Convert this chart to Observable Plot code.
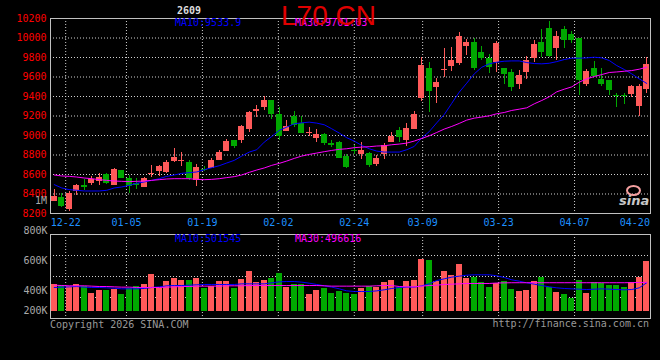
<!DOCTYPE html>
<html><head><meta charset="utf-8">
<script src="https://cdn.jsdelivr.net/npm/d3@7"></script>
<script src="https://cdn.jsdelivr.net/npm/@observablehq/plot@0.6"></script>
<style>
body{margin:0;background:#000;}
#wrap{position:relative;width:660px;height:360px;background:#000;overflow:hidden;font-family:"DejaVu Sans Mono",monospace;}
#wrap svg{position:absolute;left:0;}
.t{position:absolute;white-space:pre;font-size:10px;line-height:10px;}
</style></head><body><div id="wrap"></div>
<script>
const dates = ["12-18","12-19","12-22","12-23","12-24","12-25","12-26","12-29","12-30","12-31",
"01-05","01-06","01-07","01-08","01-09","01-12","01-13","01-14","01-15","01-16",
"01-19","01-20","01-21","01-22","01-23","01-26","01-27","01-28","01-29","01-30",
"02-02","02-03","02-04","02-05","02-06","02-09","02-10","02-11","02-12","02-13",
"02-24","02-25","02-26","02-27","03-02","03-03","03-04","03-05","03-06","03-09",
"03-10","03-11","03-12","03-13","03-16","03-17","03-18","03-19","03-20","03-23",
"03-24","03-25","03-26","03-27","03-30","03-31","04-01","04-02","04-03","04-07",
"04-08","04-09","04-10","04-13","04-14","04-15","04-16","04-17","04-20","04-21"];
const open = [8326,8363,8244,8428,8485,8510,8533,8605,8489,8636, 8564,8505,8469,8605,8632,8622,8735,8741,8724,8540, 8655,8663,8745,8837,8949,8949,9062,9250,9287,9359, 9220,9042,9195,9124,9020,8970,9011,8918,8929,8786, 8850,8806,8813,8704,8806,8929,9052,8950,9062,9380, 9690,9490,9665,9705,9738,9912,9952,9850,9789,9748, 9687,9646,9523,9646,9789,9953,10096,9891,10086,10035, 9994,9523,9687,9574,9564,9415,9415,9421,9298,9472];
const high = [8449,8404,8421,8495,8547,8581,8612,8612,8660,8643, 8591,8557,8568,8694,8694,8745,8868,8827,8745,8704, 8684,8769,8847,8960,8949,9106,9246,9308,9400,9359, 9290,9154,9246,9195,9083,9062,9021,8950,8939,8806, 8902,8929,8827,8796,8919,9031,9083,9124,9246,9802, 9750,9580,9890,9900,10055,9983,10000,9915,9830,9963, 9687,9677,9666,9810,9973,10086,10168,10065,10116,10065, 9994,9677,9758,9687,9564,9431,9431,9513,9523,9799];
const low = [8319,8261,8216,8383,8438,8489,8486,8499,8489,8557, 8404,8448,8469,8568,8581,8612,8724,8684,8540,8479, 8626,8663,8745,8837,8871,8919,9035,9188,9256,9164, 8950,9042,9083,9031,8991,8929,8898,8878,8779,8663, 8806,8755,8673,8684,8755,8929,8929,8888,9062,9349, 9235,9330,9590,9660,9717,9820,9670,9770,9636,9646, 9523,9452,9472,9574,9748,9799,9799,9769,9891,9943, 9410,9503,9615,9503,9411,9288,9319,9390,9196,9431];
const close = [8370,8285,8407,8489,8480,8547,8568,8516,8653,8568, 8489,8500,8554,8610,8684,8724,8776,8745,8568,8673, 8650,8745,8827,8939,8898,9093,9236,9263,9359,9226, 9000,9093,9113,9031,9026,9011,8929,8912,8779,8684, 8845,8847,8704,8765,8898,8991,8991,9072,9216,9717, 9465,9540,9680,9768,10014,9953,9700,9800,9707,9943, 9636,9503,9615,9769,9932,9861,9820,10014,9983,9983, 9575,9656,9615,9533,9472,9410,9410,9503,9503,9728];
const ma10 = [8496,8462,8445,8438,8431,8431,8431,8438,8462,8472, 8489,8510,8523,8540,8557,8581,8595,8612,8619,8626, 8649,8670,8690,8718,8745,8789,8830,8854,8932,8990, 9052,9086,9120,9130,9137,9127,9110,9069,9025,8977, 8943,8898,8864,8840,8830,8830,8830,8854,8888,8975, 9040,9130,9215,9330,9445,9537,9632,9700,9735,9752, 9762,9765,9765,9748,9738,9735,9741,9758,9779,9793, 9793,9796,9803,9796,9769,9717,9677,9632,9581,9534];
const ma30 = [8595,8585,8581,8574,8564,8557,8547,8540,8533,8530, 8527,8530,8533,8540,8547,8554,8557,8557,8557,8550, 8547,8550,8557,8568,8578,8595,8622,8646,8667,8694, 8714,8738,8765,8789,8806,8820,8834,8847,8858,8864, 8875,8881,8885,8892,8895,8905,8912,8922,8943,8970, 8997,9031,9066,9093,9124,9158,9178,9189,9202,9223, 9236,9257,9270,9284,9325,9359,9397,9448,9475,9499, 9547,9581,9605,9625,9646,9652,9659,9666,9680,9701];
const vol = [454,442,431,454,425,305,356,356,373,287, 396,425,460,632,385,511,563,528,528,563, 385,425,511,511,385,551,683,488,528,563, 649,414,460,460,287,356,396,305,339,305, 287,391,425,408,494,528,408,511,528,896, 878,511,683,614,804,563,580,494,408,477, 511,373,339,356,511,580,408,322,287,219, 528,305,494,477,442,442,408,494,580,855].map(v => v * 1000);
const vma10 = [408,414,419,425,414,408,408,402,396,385, 385,385,391,408,419,437,442,442,448,454, 460,460,460,460,460,471,471,471,471,488, 505,511,511,500,482,460,437,414,385,350, 339,339,339,350,368,391,408,414,414,437, 471,528,557,586,603,620,626,626,626,609, 580,540,517,488,465,442,419,402,391,385, 379,373,379,385,379,373,368,373,402,490].map(v => v * 1000);
const vma30 = [448,442,437,437,437,431,425,425,419,414, 414,408,408,408,408,414,419,425,425,431, 431,431,431,437,437,437,442,442,442,442, 442,442,442,442,442,442,437,431,431,431, 431,431,431,437,442,442,425,419,419,431, 442,448,460,465,471,477,477,477,477,485, 488,490,490,490,490,490,490,490,490,490, 490,490,490,490,490,490,490,492,494,497].map(v => v * 1000);
const priceTicks = [8200,8400,8600,8800,9000,9200,9400,9600,9800,10000,10200];
const dateTicks = ["12-22","01-05","01-19","02-02","02-24","03-09","03-23","04-07","04-20"];
const volTicks = [200000,400000,600000,800000];
const volAxisDomain = [215000, 775000];
const volBarDomain = [0, 1320000];

const UP = "#ff5a5a", DN = "#00a800", GRID = "#d0d0d0", BORDER = "#c0c0c0";
const rows = dates.map((d, i) => ({date: d, open: open[i], high: high[i], low: low[i], close: close[i],
  ma10: ma10[i], ma30: ma30[i], vol: vol[i], vma10: vma10[i], vma30: vma30[i], up: close[i] >= open[i]}));
const ups = rows.filter(r => r.up), dns = rows.filter(r => !r.up);

const base = {width: 660, marginLeft: 50, marginRight: 10,
  style: {background: "transparent", overflow: "visible", fontFamily: "'DejaVu Sans Mono', monospace", fontSize: "10px"}};
const gridStyle = {stroke: GRID, strokeOpacity: 1, strokeDasharray: "1,2"};
const pointX = {type: "point", domain: dates, padding: 0};
const bandX = {type: "band", domain: dates, paddingInner: 0.2, paddingOuter: 0.1, axis: null};
const crisp = {shapeRendering: "crispEdges"};
const vq = d3.range(1, 4).map(k => volAxisDomain[0] + k * (volAxisDomain[1] - volAxisDomain[0]) / 4);

const mainGrid = Plot.plot({...base, height: 228, marginTop: 18, marginBottom: 15,
  x: pointX, y: {domain: [8200, 10200]},
  marks: [
    Plot.gridY(priceTicks.slice(1, -1), gridStyle),
    Plot.gridX(dateTicks.slice(0, -1), gridStyle),
    Plot.frame({stroke: BORDER}),
    Plot.axisY(priceTicks, {tickSize: 0, tickPadding: 4, color: "#ff0000", label: null, tickFormat: d3.format("d")}),
    Plot.axisX(dateTicks.slice(0, -1), {tickSize: 0, tickPadding: 5, color: "#1e90ff", label: null}),
    Plot.axisX(dateTicks.slice(-1), {tickSize: 0, tickPadding: 5, color: "#1e90ff", label: null, textAnchor: "end", dx: 7})
  ]});

const mainCandles = Plot.plot({...base, height: 228, marginTop: 18, marginBottom: 15,
  x: bandX, y: {domain: [8200, 10200], axis: null},
  marks: [
    Plot.ruleX(ups, {x: "date", y1: "low", y2: "high", stroke: UP, ...crisp}),
    Plot.ruleX(dns, {x: "date", y1: "low", y2: "high", stroke: DN, ...crisp}),
    Plot.barY(ups, {x: "date", y1: "open", y2: "close", fill: UP, ...crisp}),
    Plot.barY(dns, {x: "date", y1: "close", y2: "open", fill: DN, ...crisp}),
    Plot.tickY(ups, {x: "date", y: "close", stroke: UP, ...crisp}),
    Plot.tickY(dns, {x: "date", y: "close", stroke: DN, ...crisp}),
    Plot.line(rows, {x: "date", y: "ma10", stroke: "#0000ff", strokeWidth: 1}),
    Plot.line(rows, {x: "date", y: "ma30", stroke: "#ff00ff", strokeWidth: 1})
  ]});

const volGrid = Plot.plot({...base, height: 100, marginTop: 9, marginBottom: 7,
  x: {...pointX, axis: null}, y: {domain: volAxisDomain},
  marks: [
    Plot.gridY(vq, gridStyle),
    Plot.gridX(dateTicks.slice(0, -1), gridStyle),
    Plot.frame({stroke: BORDER}),
    Plot.axisY(volTicks.slice(1), {tickSize: 0, tickPadding: 3, color: "#aaaaaa", label: null, tickFormat: d => d / 1000 + "K"}),
    Plot.axisY(volTicks.slice(0, 1), {tickSize: 0, tickPadding: 3, color: "#aaaaaa", label: null, tickFormat: d => d / 1000 + "K", dy: -10})
  ]});

const volBars = Plot.plot({...base, height: 100, marginTop: 9, marginBottom: 14.3,
  x: bandX, y: {domain: volBarDomain, axis: null},
  marks: [
    Plot.barY(ups, {x: "date", y: "vol", fill: UP, ...crisp}),
    Plot.barY(dns, {x: "date", y: "vol", fill: DN, ...crisp}),
    Plot.line(rows, {x: "date", y: "vma10", stroke: "#0000ff", strokeWidth: 1}),
    Plot.line(rows, {x: "date", y: "vma30", stroke: "#ff00ff", strokeWidth: 1})
  ]});

const wrap = document.getElementById("wrap");
[[mainGrid, 0], [mainCandles, 0], [volGrid, 225], [volBars, 225]].forEach(([svg, top]) => {
  svg.style.top = top + "px"; svg.style.position = "absolute"; svg.style.left = "0px";
  wrap.appendChild(svg);
});

function label(text, css) {
  const el = document.createElement("div");
  el.className = "t"; el.textContent = text;
  Object.assign(el.style, css);
  wrap.appendChild(el);
  return el;
}
label("2609", {left: "177px", top: "6px", color: "#dddddd", fontWeight: "bold"});
label("MA10:9533.9", {left: "175px", top: "18px", color: "#0000ff"});
label("MA30:9701.03", {left: "295px", top: "18px", color: "#ff00ff"});
label("L70 CN", {left: "281px", top: "2px", color: "#e00000", fontFamily: "'Liberation Sans', Arial, sans-serif", fontSize: "28px", lineHeight: "28px"});
label("1M", {left: "35px", top: "196px", color: "#aaaaaa"});
label("MA10:501545", {left: "175px", top: "234px", color: "#0000ff"});
label("MA30:496616", {left: "295px", top: "234px", color: "#ff00ff"});
label("Copyright 2026 SINA.COM", {left: "50px", top: "320px", color: "#999999"});
label("http://finance.sina.com.cn", {right: "11px", top: "319px", color: "#999999"});
const eye = document.createElement("div");
Object.assign(eye.style, {position: "absolute", left: "626px", top: "185px", width: "11px", height: "7px", border: "2px solid #f4a0a0", borderRadius: "50%"});
wrap.appendChild(eye);
label("sina", {left: "619px", top: "194px", color: "#c8c8c8", fontFamily: "'DejaVu Sans', sans-serif", fontSize: "13px", lineHeight: "13px", fontWeight: "bold", fontStyle: "italic"});
</script></body></html>
